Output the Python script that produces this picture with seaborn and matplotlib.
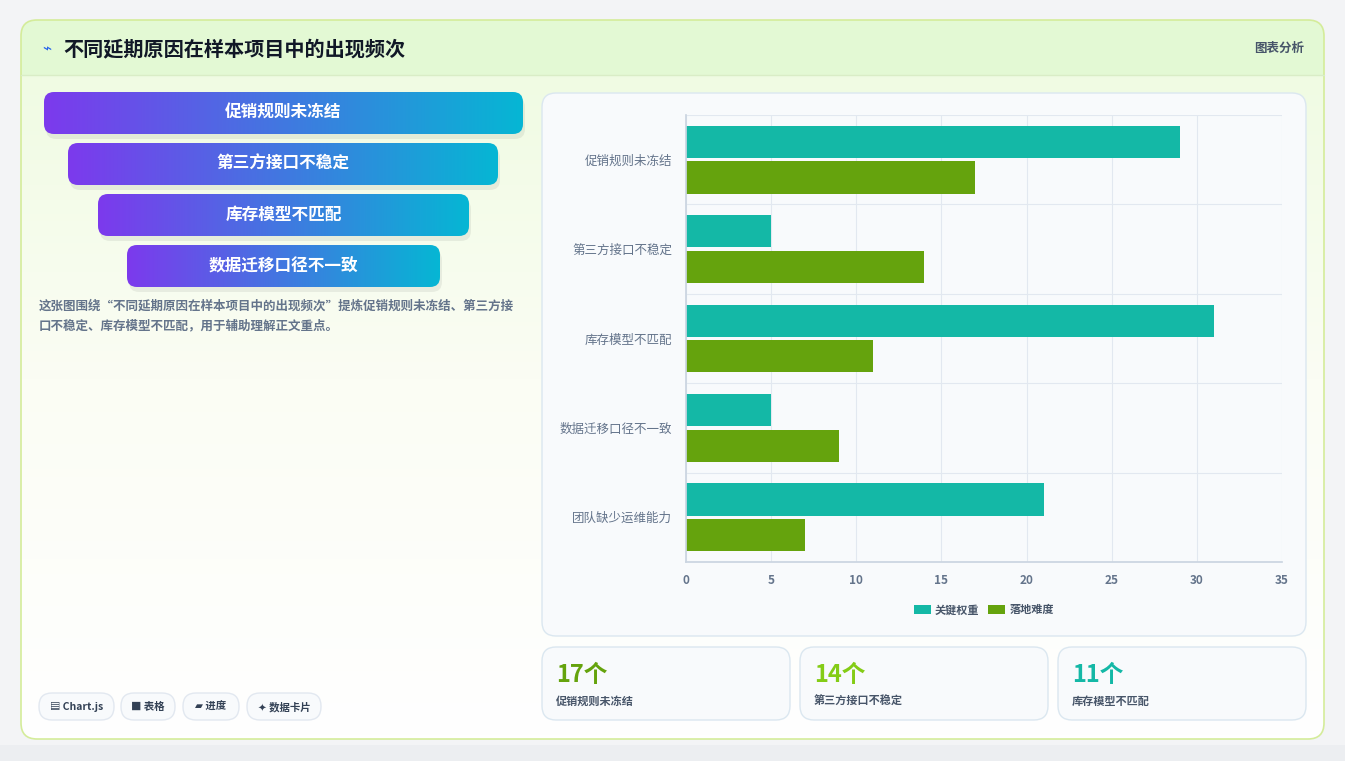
import numpy as np
import pandas as pd
import seaborn as sns
import matplotlib as mpl
mpl.use('Agg')
import matplotlib.pyplot as plt
from matplotlib.patches import FancyBboxPatch, Rectangle
from matplotlib.colors import LinearSegmentedColormap

# ---------------- data ----------------
categories = ['促销规则未冻结', '第三方接口不稳定', '库存模型不匹配', '数据迁移口径不一致', '团队缺少运维能力']
key_weight = [29, 5, 31, 5, 21]
difficulty = [17, 14, 11, 9, 7]
series_names = ['关键权重', '落地难度']
funnel_labels = categories[:4]
stat_values = ['17个', '14个', '11个']
stat_labels = ['促销规则未冻结', '第三方接口不稳定', '库存模型不匹配']
chip_labels = ['▤ Chart.js', '■ 表格', '▰ 进度', '✦ 数据卡片']

sns.set_theme(style='white')
plt.rcParams['font.family'] = ['Noto Sans CJK SC', 'DejaVu Sans']

W, H = 1345, 761
fig = plt.figure(figsize=(W / 100, H / 100), dpi=100)
fig.patch.set_facecolor('#f3f4f6')
bg = fig.add_axes([0, 0, 1, 1])
bg.set_xlim(0, W)
bg.set_ylim(H, 0)
bg.axis('off')


def rbox(x, y, w, h, r, fc, ec='none', lw=1, z=1):
    p = FancyBboxPatch((x, y), w, h, boxstyle='round,pad=0,rounding_size=%d' % r,
                       fc=fc, ec=ec, lw=lw, zorder=z, mutation_aspect=1)
    bg.add_patch(p)
    return p


# main card with soft gradient
rbox(0, 745, W, 20, 0, '#eceef1', z=0)
card = rbox(21, 20, 1303, 719, 16, 'none', ec='#d4ec9a', lw=1.2, z=2)
grad = np.linspace(0, 1, 200)[:, None]
cm_bg = LinearSegmentedColormap.from_list('bgc', ['#eefbe0', '#fbfdf4', '#ffffff'])
im = bg.imshow(grad, cmap=cm_bg, extent=(21, 1324, 739, 20), aspect='auto', zorder=1)
im.set_clip_path(card)
hdr = Rectangle((21, 20), 1303, 55, fc='#e3f9d4', ec='none', zorder=1.5)
bg.add_patch(hdr)
hdr.set_clip_path(card)
bg.plot([21, 1324], [75, 75], color='#d9edc6', lw=1, zorder=2)
bg.text(42, 49, '⌁', color='#2563eb', fontsize=11, va='center', zorder=3)
bg.text(63, 49, '不同延期原因在样本项目中的出现频次', fontsize=14.5, fontweight='bold',
        color='#111827', va='center', zorder=3)
bg.text(1304, 48, '图表分析', fontsize=9, fontweight='bold', color='#475569',
        va='center', ha='right', zorder=3)

# funnel bars with gradient
cm_f = LinearSegmentedColormap.from_list('f', ['#7c3aed', '#06b6d4'])
funnel_geo = [(44, 92, 479), (68, 143, 430), (98, 194, 371), (127, 245, 313)]
for (x, y, w), lab in zip(funnel_geo, funnel_labels):
    rbox(x + 2, y + 5, w, 42, 10, '#00000010', z=2)
    p = rbox(x, y, w, 42, 10, 'none', z=3)
    g = bg.imshow(np.linspace(0, 1, 200)[None, :], cmap=cm_f, extent=(x, x + w, y + 42, y),
                  aspect='auto', zorder=3)
    g.set_clip_path(p)
    bg.text(x + w / 2, y + 21, lab, color='white', fontsize=12, fontweight='bold',
            ha='center', va='center', zorder=4)

bg.text(39, 300, '这张图围绕“不同延期原因在样本项目中的出现频次”提炼促销规则未冻结、第三方接\n口不稳定、库存模型不匹配，用于辅助理解正文重点。',
        fontsize=9, fontweight='bold', color='#64748b', va='top', linespacing=1.6, zorder=3)

# chips
chip_geo = [(39, 75), (121, 54), (183, 56), (247, 74)]
for (x, w), lab in zip(chip_geo, chip_labels):
    rbox(x, 693, w, 27, 13, '#f8fafc', ec='#e2e8f0', z=3)
    bg.text(x + w / 2, 707, lab, fontsize=7.5, fontweight='bold', color='#334155',
            ha='center', va='center', zorder=4)

# chart panel
rbox(542, 93, 764, 543, 14, '#f8fafc', ec='#dbe7f0', z=2)

# stat cards
stat_colors = ['#65a30d', '#84cc16', '#14b8a6']
for i, (v, lab, c) in enumerate(zip(stat_values, stat_labels, stat_colors)):
    x = 542 + i * 258
    rbox(x, 647, 248, 73, 14, '#f8fafc', ec='#dbe7f0', z=2)
    bg.text(x + 14, 675, v, fontsize=17, fontweight='bold', color=c, va='center', zorder=3)
    bg.text(x + 14, 701, lab, fontsize=8, fontweight='bold', color='#475569', va='center', zorder=3)

# bar chart
ax = fig.add_axes([686 / W, (H - 562) / H, 596 / W, 447 / H], zorder=5)
ax.set_facecolor('none')
df = pd.DataFrame({'cat': categories * 2,
                   'val': key_weight + difficulty,
                   'series': [series_names[0]] * 5 + [series_names[1]] * 5})
sns.barplot(data=df, y='cat', x='val', hue='series', orient='h', ax=ax,
            palette=['#14b8a6', '#65a30d'], width=0.8, gap=0.1, saturation=1,
            edgecolor='none')
ax.set_xlim(0, 35)
ax.set_xticks(range(0, 36, 5))
ax.set_ylim(4.5, -0.5)
ax.set_yticks(np.arange(-0.5, 5, 1), minor=True)
ax.grid(True, axis='x', color='#e2e8f0', lw=0.8)
ax.grid(True, axis='y', which='minor', color='#e2e8f0', lw=0.8)
ax.set_axisbelow(True)
ax.tick_params(axis='y', which='minor', length=0)
ax.tick_params(axis='y', which='major', length=0, pad=10, labelsize=9, labelcolor='#64748b')
ax.tick_params(axis='x', length=5, color='#e2e8f0', labelsize=8.5, labelcolor='#64748b')
for lab in ax.get_xticklabels():
    lab.set_fontweight('bold')
for s in ['top', 'right']:
    ax.spines[s].set_visible(False)
for s in ['left', 'bottom']:
    ax.spines[s].set_color('#cbd5e1')
ax.set_xlabel('')
ax.set_ylabel('')
leg = ax.legend(loc='upper center', bbox_to_anchor=(0.5, -0.07), ncol=2, frameon=False,
                fontsize=8, handlelength=1.5, handleheight=0.9, columnspacing=0.8,
                handletextpad=0.4)
for t in leg.get_texts():
    t.set_fontweight('bold')
    t.set_color('#475569')

fig.savefig('out.png', dpi=100, facecolor=fig.get_facecolor())
